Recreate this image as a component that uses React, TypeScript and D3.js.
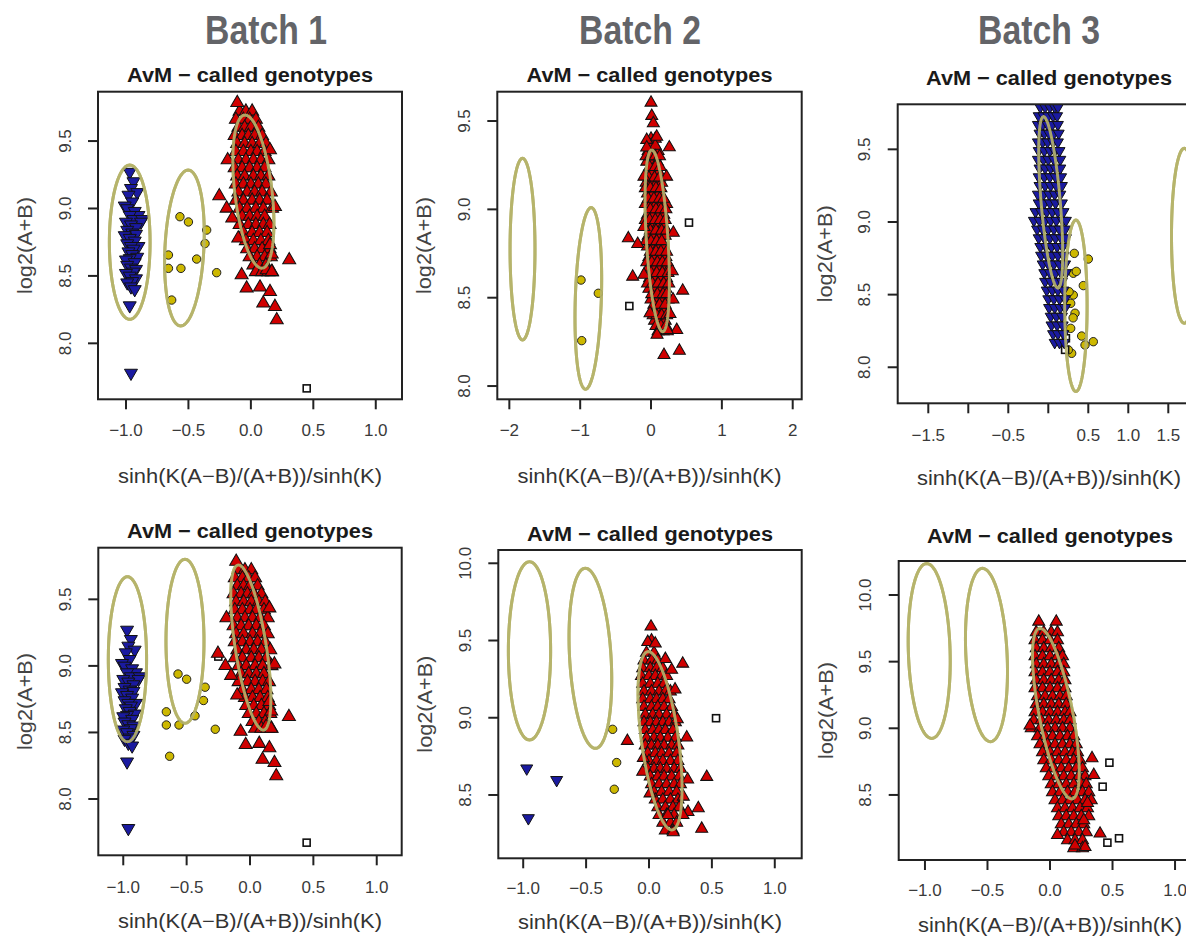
import React from 'react';
import * as d3 from 'd3';

type Pt = [number, number];
type Row = [number, number[]];
type Ell = { cx: number; cy: number; rx: number; ry: number; sh: number };

const BATCHES = ['Batch 1', 'Batch 2', 'Batch 3'];
const TITLE = 'AvM \u2212 called genotypes';
const XLABEL = 'sinh(K(A\u2212B)/(A+B))/sinh(K)';
const YLABEL = 'log2(A+B)';

// ---- tick values / labels ----
const X_TICKS_STD = [-1, -0.5, 0, 0.5, 1];
const X_LABELS_STD = ['\u22121.0', '\u22120.5', '0.0', '0.5', '1.0'];
const X_TICKS_B2 = [-2, -1, 0, 1, 2];
const X_LABELS_B2 = ['\u22122', '\u22121', '0', '1', '2'];
const X_TICKS_B3 = [-1.5, -1, -0.5, 0, 0.5, 1, 1.5];
const X_LABELS_B3 = ['\u22121.5', '', '\u22120.5', '', '0.5', '1.0', '1.5'];
const Y_TICKS_LO = [8.0, 8.5, 9.0, 9.5];
const Y_LABELS_LO = ['8.0', '8.5', '9.0', '9.5'];
const Y_TICKS_HI = [8.5, 9.0, 9.5, 10.0];
const Y_LABELS_HI = ['8.5', '9.0', '9.5', '10.0'];

// ---- Batch 1 (panels 1 and 4) ----
const B1_BLUE: Pt[] = [
  [-0.97, 9.27], [-0.94, 9.2], [-0.96, 9.15], [-0.91, 9.12], [-0.98, 9.1], [-0.95, 9.05], [-1.01, 9.02],
  [-0.99, 9.0], [-0.93, 8.98], [-0.9, 8.95], [-0.97, 8.95], [-0.94, 8.92], [-0.87, 8.92], [-0.88, 8.9],
  [-1.0, 8.9], [-0.96, 8.88], [-0.92, 8.86], [-0.99, 8.84], [-0.95, 8.82], [-0.92, 8.81], [-1.01, 8.8],
  [-0.97, 8.78], [-0.93, 8.76], [-0.99, 8.74], [-0.9, 8.72], [-0.96, 8.72], [-0.94, 8.7], [-0.98, 8.68],
  [-0.95, 8.66], [-0.91, 8.64], [-0.97, 8.63], [-1.0, 8.62], [-0.93, 8.6], [-0.99, 8.58], [-0.96, 8.56],
  [-0.92, 8.55], [-0.94, 8.53], [-1.0, 8.52], [-0.97, 8.5], [-0.92, 8.48], [-0.95, 8.46], [-0.99, 8.45],
  [-0.96, 8.42], [-0.93, 8.4], [-0.97, 8.28], [-0.96, 7.78],
];
const B1_YELLOW: Pt[] = [
  [-0.568, 8.939], [-0.5, 8.9], [-0.354, 8.84], [-0.367, 8.74], [-0.434, 8.625], [-0.66, 8.655],
  [-0.66, 8.556], [-0.56, 8.556], [-0.274, 8.524], [-0.634, 8.321],
];
const B1_RED_CORE: Row[] = [
  [9.72, [-0.09, -0.04, 0.01]],
  [9.66, [-0.12, -0.06, -0.01, 0.04]],
  [9.6, [-0.1, -0.05, 0.0, 0.06]],
  [9.54, [-0.13, -0.07, -0.02, 0.03, 0.09]],
  [9.48, [-0.11, -0.05, 0.01, 0.07, 0.12]],
  [9.42, [-0.12, -0.06, 0.0, 0.05, 0.11]],
  [9.36, [-0.1, -0.04, 0.02, 0.08, 0.14]],
  [9.3, [-0.13, -0.07, -0.01, 0.05, 0.11]],
  [9.24, [-0.11, -0.05, 0.02, 0.08, 0.14]],
  [9.18, [-0.12, -0.06, 0.0, 0.06, 0.12]],
  [9.12, [-0.1, -0.03, 0.03, 0.09, 0.16]],
  [9.06, [-0.12, -0.06, 0.01, 0.07, 0.13]],
  [9.0, [-0.09, -0.03, 0.04, 0.1, 0.17]],
  [8.94, [-0.07, -0.01, 0.05, 0.11]],
  [8.88, [-0.09, -0.02, 0.04, 0.1, 0.15]],
  [8.82, [-0.06, 0.01, 0.07, 0.13]],
  [8.76, [-0.04, 0.02, 0.08, 0.14]],
  [8.7, [-0.03, 0.03, 0.09, 0.15]],
  [8.64, [-0.01, 0.05, 0.11, 0.16]],
  [8.58, [0.02, 0.07, 0.12]],
  [8.53, [0.04, 0.09, 0.14, 0.17]],
];
const B1_RED_OUT: Pt[] = [
  [-0.109, 9.784], [-0.186, 9.36], [-0.253, 9.093], [-0.194, 9.001], [-0.149, 8.927], [-0.101, 8.779],
  [0.307, 8.618], [-0.074, 8.507], [-0.034, 8.408], [0.073, 8.416], [0.153, 8.383], [0.099, 8.297],
  [0.193, 8.272], [0.207, 8.173], [0.127, 8.544], [0.167, 8.53], [0.193, 9.013], [0.153, 9.434],
  [0.153, 8.73], [0.167, 8.66],
];
const P1_SQUARES: Pt[] = [[0.447, 7.666]];
const P4_SQUARES: Pt[] = [[-0.25, 9.07], [0.447, 7.672]];
const P1_ELLIPSES: Ell[] = [
  { cx: -0.97, cy: 8.75, rx: 0.163, ry: 0.572, sh: 0 },
  { cx: -0.532, cy: 8.707, rx: 0.156, ry: 0.578, sh: 0.03 },
  { cx: 0.02, cy: 9.125, rx: 0.15, ry: 0.568, sh: -0.067 },
];
const P4_ELLIPSES: Ell[] = [
  { cx: -0.967, cy: 9.05, rx: 0.151, ry: 0.62, sh: 0 },
  { cx: -0.513, cy: 9.185, rx: 0.15, ry: 0.616, sh: 0 },
  { cx: 0.0065, cy: 9.138, rx: 0.124, ry: 0.62, sh: -0.098 },
];

// ---- Batch 2 top (panel 2) ----
const P2_YELLOW: Pt[] = [[-0.988, 8.6], [-0.744, 8.525], [-0.978, 8.257]];
const P2_SQUARES: Pt[] = [[0.536, 8.925], [-0.306, 8.453]];
const P2_RED_CORE: Row[] = [
  [9.4, [0.0, 0.06]],
  [9.33, [-0.04, 0.03, 0.1]],
  [9.27, [-0.06, 0.02, 0.09]],
  [9.21, [-0.05, 0.03, 0.11]],
  [9.15, [-0.07, 0.01, 0.08, 0.15]],
  [9.09, [-0.05, 0.03, 0.11]],
  [9.03, [-0.08, 0.0, 0.07, 0.15, 0.22]],
  [8.97, [-0.05, 0.03, 0.11, 0.18]],
  [8.91, [-0.06, 0.02, 0.09, 0.17]],
  [8.85, [-0.04, 0.04, 0.12, 0.2]],
  [8.79, [-0.05, 0.03, 0.1, 0.18]],
  [8.73, [-0.03, 0.05, 0.13, 0.21]],
  [8.67, [-0.04, 0.04, 0.12, 0.2, 0.26]],
  [8.61, [-0.02, 0.06, 0.14, 0.22]],
  [8.55, [-0.03, 0.05, 0.13, 0.21]],
  [8.49, [0.0, 0.08, 0.16, 0.24]],
  [8.43, [0.02, 0.1, 0.18]],
  [8.37, [0.05, 0.12, 0.2]],
  [8.31, [0.1, 0.17, 0.23]],
];
const P2_RED_CORE_B: Row[] = [
  [9.36, [-0.01, 0.06]],
  [9.3, [-0.07, -0.01, 0.06, 0.12]],
  [9.24, [-0.02, 0.06, 0.13]],
  [9.18, [-0.03, 0.05, 0.12]],
  [9.12, [-0.08, -0.01, 0.07, 0.14]],
  [9.06, [-0.04, 0.04, 0.12, 0.18]],
  [9.0, [-0.01, 0.07, 0.14, 0.21]],
  [8.94, [-0.08, -0.02, 0.06, 0.13, 0.2]],
  [8.88, [-0.01, 0.07, 0.15, 0.22]],
  [8.82, [-0.07, 0.0, 0.08, 0.15]],
  [8.76, [-0.01, 0.07, 0.14, 0.22]],
  [8.7, [-0.06, 0.01, 0.09, 0.16, 0.23]],
  [8.64, [0.0, 0.08, 0.16, 0.24]],
  [8.58, [-0.05, 0.02, 0.1, 0.18, 0.25]],
  [8.52, [0.01, 0.09, 0.17, 0.22]],
  [8.46, [0.04, 0.12, 0.2]],
  [8.4, [0.03, 0.08, 0.15, 0.22]],
  [8.34, [0.07, 0.14, 0.21]],
];
const P2_RED_OUT: Pt[] = [
  [0.0, 9.604], [0.01, 9.529], [0.033, 9.487], [-0.061, 9.393], [0.08, 9.411], [0.258, 9.351],
  [-0.061, 9.35], [-0.32, 8.836], [-0.188, 8.804], [-0.259, 8.619], [0.315, 8.868], [0.447, 8.54],
  [0.363, 8.317], [0.183, 8.176], [0.4, 8.2], [0.268, 8.408], [-0.014, 8.412], [0.23, 8.317],
  [0.085, 8.29], [-0.1, 9.185], [0.22, 9.185], [-0.1, 8.9], [0.3, 8.65], [-0.1, 8.63], [0.31, 8.49],
];
const P2_ELLIPSES: Ell[] = [
  { cx: -1.814, cy: 8.775, rx: 0.176, ry: 0.514, sh: 0 },
  { cx: -0.885, cy: 8.496, rx: 0.184, ry: 0.514, sh: 0.04 },
  { cx: 0.0875, cy: 8.822, rx: 0.153, ry: 0.514, sh: -0.0775 },
];

// ---- Batch 3 top (panel 3) ----
const P3_BLUE_CORE: Row[] = [
  [9.79, [-0.1, -0.04, 0.02, 0.08, 0.12]],
  [9.73, [-0.12, -0.06, 0.0, 0.06, 0.11]],
  [9.67, [-0.13, -0.07, -0.01, 0.05, 0.12]],
  [9.61, [-0.11, -0.05, 0.01, 0.07, 0.13]],
  [9.55, [-0.13, -0.07, -0.01, 0.06, 0.12]],
  [9.49, [-0.12, -0.05, 0.02, 0.08, 0.14]],
  [9.43, [-0.13, -0.06, 0.0, 0.07, 0.15]],
  [9.37, [-0.11, -0.04, 0.03, 0.09, 0.15]],
  [9.31, [-0.12, -0.05, 0.02, 0.09, 0.16]],
  [9.25, [-0.11, -0.04, 0.03, 0.1, 0.17]],
  [9.19, [-0.13, -0.06, 0.01, 0.08, 0.15]],
  [9.13, [-0.12, -0.05, 0.02, 0.09, 0.17]],
  [9.07, [-0.16, -0.09, -0.02, 0.05, 0.12, 0.19]],
  [9.01, [-0.18, -0.11, -0.04, 0.03, 0.1, 0.18, 0.22]],
  [8.95, [-0.14, -0.07, 0.0, 0.07, 0.14, 0.21]],
  [8.89, [-0.12, -0.05, 0.02, 0.09, 0.16, 0.22]],
  [8.83, [-0.1, -0.03, 0.04, 0.11, 0.18]],
  [8.77, [-0.09, -0.02, 0.05, 0.12, 0.19]],
  [8.71, [-0.07, 0.0, 0.07, 0.14, 0.21]],
  [8.65, [-0.05, 0.02, 0.09, 0.16, 0.22]],
  [8.59, [-0.04, 0.03, 0.1, 0.17]],
  [8.53, [-0.02, 0.05, 0.12, 0.19]],
  [8.47, [0.0, 0.07, 0.14, 0.21]],
  [8.41, [0.01, 0.08, 0.15, 0.21]],
  [8.35, [0.03, 0.1, 0.17]],
  [8.29, [0.04, 0.11, 0.18]],
  [8.23, [0.06, 0.12, 0.19]],
  [8.17, [0.08, 0.14, 0.2]],
];
const P3_YELLOW: Pt[] = [
  [0.325, 8.784], [0.5, 8.745], [0.313, 8.647], [0.35, 8.66], [0.4375, 8.562], [0.3125, 8.497],
  [0.28, 8.44], [0.334, 8.372], [0.31, 8.34], [0.28, 8.268], [0.417, 8.215], [0.459, 8.153],
  [0.5625, 8.176], [0.292, 8.096], [0.25, 8.12], [0.26, 8.52],
];
const P3_SQUARES: Pt[] = [[0.21, 8.12], [0.22, 8.2]];
const P3_ELLIPSES: Ell[] = [
  { cx: 0.03, cy: 9.135, rx: 0.12, ry: 0.59, sh: -0.09 },
  { cx: 0.345, cy: 8.423, rx: 0.14, ry: 0.59, sh: 0 },
  { cx: 1.7, cy: 8.905, rx: 0.16, ry: 0.602, sh: 0 },
];

// ---- Batch 2 bottom (panel 5) ----
const P5_BLUE: Pt[] = [[-0.972, 8.672], [-0.734, 8.597], [-0.959, 8.35]];
const P5_YELLOW: Pt[] = [[-0.289, 8.925], [-0.257, 8.71], [-0.276, 8.537]];
const P5_SQUARES: Pt[] = [[0.533, 8.997]];
const P5_RED_CORE: Row[] = [
  [9.42, [-0.02, 0.04]],
  [9.37, [-0.04, 0.02, 0.07]],
  [9.32, [-0.05, 0.01, 0.06, 0.11]],
  [9.27, [-0.06, 0.0, 0.05, 0.1, 0.14]],
  [9.22, [-0.05, 0.01, 0.07, 0.12]],
  [9.17, [-0.04, 0.02, 0.08, 0.13, 0.17]],
  [9.12, [-0.05, 0.01, 0.06, 0.11, 0.16]],
  [9.07, [-0.04, 0.02, 0.07, 0.12, 0.18]],
  [9.02, [-0.03, 0.03, 0.08, 0.14, 0.2]],
  [8.97, [-0.04, 0.01, 0.06, 0.11, 0.16, 0.21]],
  [8.92, [-0.03, 0.03, 0.08, 0.13, 0.19]],
  [8.87, [-0.02, 0.04, 0.09, 0.15, 0.21]],
  [8.82, [-0.03, 0.02, 0.07, 0.12, 0.18, 0.23]],
  [8.77, [-0.01, 0.05, 0.1, 0.16, 0.22]],
  [8.72, [0.0, 0.06, 0.11, 0.17, 0.23]],
  [8.67, [-0.01, 0.04, 0.09, 0.14, 0.2, 0.25]],
  [8.62, [0.01, 0.07, 0.12, 0.18, 0.24]],
  [8.57, [0.02, 0.08, 0.14, 0.2, 0.25]],
  [8.52, [0.04, 0.1, 0.16, 0.22]],
  [8.47, [0.05, 0.11, 0.17, 0.23]],
  [8.42, [0.07, 0.13, 0.19, 0.24]],
  [8.37, [0.08, 0.14, 0.2]],
  [8.32, [0.11, 0.17, 0.22]],
  [8.27, [0.13, 0.19]],
];
const P5_RED_OUT: Pt[] = [
  [0.016, 9.59], [0.02, 9.5], [-0.01, 9.49], [0.05, 9.48], [0.268, 9.35], [0.13, 9.38], [0.18, 9.31],
  [0.207, 9.183], [0.225, 8.99], [0.3, 8.872], [-0.172, 8.85], [-0.045, 8.74], [-0.05, 8.65],
  [0.008, 8.51], [0.459, 8.617], [0.307, 8.6], [0.273, 8.489], [0.392, 8.414], [0.31, 8.39],
  [0.193, 8.259], [0.419, 8.281], [0.27, 8.37], [0.15, 8.37],
];
const P5_ELLIPSES: Ell[] = [
  { cx: -0.95, cy: 9.433, rx: 0.168, ry: 0.577, sh: 0 },
  { cx: -0.466, cy: 9.385, rx: 0.165, ry: 0.583, sh: -0.04 },
  { cx: 0.088, cy: 8.851, rx: 0.148, ry: 0.577, sh: -0.093 },
];

// ---- Batch 3 bottom (panel 6) ----
const P6_SQUARES: Pt[] = [[0.475, 8.742], [0.421, 8.562], [0.459, 8.142], [0.552, 8.175]];
const P6_RED_CORE: Row[] = [
  [9.72, [-0.11, -0.05, 0.01, 0.06]],
  [9.66, [-0.12, -0.06, 0.0, 0.06]],
  [9.6, [-0.11, -0.05, 0.01, 0.07]],
  [9.54, [-0.12, -0.06, 0.0, 0.06, 0.1]],
  [9.48, [-0.11, -0.05, 0.01, 0.07, 0.11]],
  [9.42, [-0.12, -0.06, 0.0, 0.06, 0.11]],
  [9.36, [-0.11, -0.05, 0.01, 0.07, 0.12]],
  [9.3, [-0.12, -0.06, 0.0, 0.06, 0.12]],
  [9.24, [-0.1, -0.04, 0.02, 0.08, 0.13]],
  [9.18, [-0.11, -0.05, 0.01, 0.07, 0.13]],
  [9.12, [-0.12, -0.06, 0.0, 0.06, 0.12, 0.16]],
  [9.06, [-0.13, -0.07, -0.01, 0.05, 0.11, 0.16]],
  [9.0, [-0.15, -0.08, -0.02, 0.04, 0.1, 0.16]],
  [8.94, [-0.1, -0.04, 0.02, 0.08, 0.14, 0.19]],
  [8.88, [-0.08, -0.02, 0.04, 0.1, 0.16, 0.21]],
  [8.82, [-0.06, 0.0, 0.06, 0.12, 0.18, 0.22]],
  [8.76, [-0.05, 0.01, 0.07, 0.13, 0.19, 0.24]],
  [8.7, [-0.03, 0.03, 0.09, 0.15, 0.21, 0.26]],
  [8.64, [-0.01, 0.05, 0.11, 0.17, 0.23, 0.28]],
  [8.58, [0.01, 0.07, 0.13, 0.19, 0.25, 0.29]],
  [8.52, [0.02, 0.08, 0.14, 0.2, 0.26, 0.31]],
  [8.46, [0.04, 0.1, 0.16, 0.22, 0.28, 0.33]],
  [8.4, [0.06, 0.12, 0.18, 0.24, 0.3]],
  [8.34, [0.07, 0.13, 0.19, 0.25, 0.31]],
  [8.28, [0.09, 0.15, 0.21, 0.27]],
  [8.22, [0.11, 0.17, 0.23, 0.29]],
  [8.16, [0.14, 0.2, 0.26]],
  [8.1, [0.19, 0.26]],
];
const P6_RED_OUT: Pt[] = [
  [-0.09, 9.8], [0.05, 9.8], [0.336, 8.775], [0.35, 8.65], [0.4, 8.21], [0.28, 8.11], [0.2, 8.12],
  [0.06, 8.2], [0.3, 8.44], [0.27, 8.31], [-0.16, 9.02],
];
const P6_ELLIPSES: Ell[] = [
  { cx: -0.966, cy: 9.58, rx: 0.167, ry: 0.656, sh: -0.02 },
  { cx: -0.508, cy: 9.55, rx: 0.165, ry: 0.65, sh: -0.032 },
  { cx: 0.047, cy: 9.11, rx: 0.137, ry: 0.64, sh: -0.127 },
];

const flat = (rows: Row[]): Pt[] => rows.flatMap(([yv, xs]) => xs.map((xv) => [xv, yv] as Pt));

// ---- styling / layout ----
const FONT = "'Liberation Sans', Arial, Helvetica, sans-serif";
const RED = '#d00000';
const BLUE = '#1a1aa0';
const YELLOW = '#cdb800';
const ELL = '#b6b46c';

interface PanelCfg {
  box: [number, number, number, number];
  xDom: [number, number];
  yDom: [number, number];
  xTicks: number[];
  xLabels: string[];
  yTicks: number[];
  yLabels: string[];
  titleY: number;
  tickY: number;
  xlabY: number;
  tri: number;
  ellipses: Ell[];
  red: Pt[];
  blue: Pt[];
  yellow: Pt[];
  squares: Pt[];
}

const PANELS: PanelCfg[] = [
  {
    box: [98, 402, 91.7, 399.3], xDom: [-1.224, 1.21], yDom: [7.585, 9.866],
    xTicks: X_TICKS_STD, xLabels: X_LABELS_STD, yTicks: Y_TICKS_LO, yLabels: Y_LABELS_LO,
    titleY: 81.5, tickY: 430, xlabY: 476, tri: 13,
    ellipses: P1_ELLIPSES, red: [...flat(B1_RED_CORE), ...B1_RED_OUT], blue: B1_BLUE, yellow: B1_YELLOW, squares: P1_SQUARES,
  },
  {
    box: [497.3, 801.7, 91.7, 399.3], xDom: [-2.17, 2.127], yDom: [7.925, 9.666],
    xTicks: X_TICKS_B2, xLabels: X_LABELS_B2, yTicks: Y_TICKS_LO, yLabels: Y_LABELS_LO,
    titleY: 81.5, tickY: 430, xlabY: 476, tri: 12,
    ellipses: P2_ELLIPSES, red: [...flat(P2_RED_CORE), ...flat(P2_RED_CORE_B), ...P2_RED_OUT], blue: [], yellow: P2_YELLOW, squares: P2_SQUARES,
  },
  {
    box: [897.7, 1200.3, 104.3, 403.3], xDom: [-1.8825, 1.9], yDom: [7.752, 9.81],
    xTicks: X_TICKS_B3, xLabels: X_LABELS_B3, yTicks: Y_TICKS_LO, yLabels: Y_LABELS_LO,
    titleY: 85, tickY: 435, xlabY: 478, tri: 11,
    ellipses: P3_ELLIPSES, red: [], blue: flat(P3_BLUE_CORE), yellow: P3_YELLOW, squares: P3_SQUARES,
  },
  {
    box: [98.3, 401.7, 547.7, 855.3], xDom: [-1.197, 1.197], yDom: [7.577, 9.888],
    xTicks: X_TICKS_STD, xLabels: X_LABELS_STD, yTicks: Y_TICKS_LO, yLabels: Y_LABELS_LO,
    titleY: 538, tickY: 887, xlabY: 921, tri: 13,
    ellipses: P4_ELLIPSES, red: [...flat(B1_RED_CORE), ...B1_RED_OUT], blue: B1_BLUE, yellow: B1_YELLOW, squares: P4_SQUARES,
  },
  {
    box: [498.3, 801.7, 550, 858.3], xDom: [-1.198, 1.214], yDom: [8.09, 10.086],
    xTicks: X_TICKS_STD, xLabels: X_LABELS_STD, yTicks: Y_TICKS_HI, yLabels: Y_LABELS_HI,
    titleY: 540.5, tickY: 888, xlabY: 922, tri: 12,
    ellipses: P5_ELLIPSES, red: [...flat(P5_RED_CORE), ...P5_RED_OUT], blue: P5_BLUE, yellow: P5_YELLOW, squares: P5_SQUARES,
  },
  {
    box: [898.7, 1201.3, 561, 860], xDom: [-1.21, 1.21], yDom: [8.012, 10.255],
    xTicks: X_TICKS_STD, xLabels: X_LABELS_STD, yTicks: Y_TICKS_HI, yLabels: Y_LABELS_HI,
    titleY: 543, tickY: 890, xlabY: 925, tri: 12,
    ellipses: P6_ELLIPSES, red: [...flat(P6_RED_CORE), ...P6_RED_OUT], blue: [], yellow: [], squares: P6_SQUARES,
  },
];

const HEADER_X = [266, 640, 1039];

function triPath(cx: number, cy: number, w: number, up: boolean): string {
  const h = w * 0.866;
  const s = up ? 1 : -1;
  const tipY = cy - s * (2 * h) / 3;
  const baseY = cy + s * h / 3;
  return `M${cx},${tipY}L${cx + w / 2},${baseY}L${cx - w / 2},${baseY}Z`;
}

const T_SAMPLES = d3.range(0, 2 * Math.PI + 0.001, Math.PI / 60);

function Panel({ cfg, idx }: { cfg: PanelCfg; idx: number }) {
  const [x0, x1, y0, y1] = cfg.box;
  const x = d3.scaleLinear().domain(cfg.xDom).range([x0, x1]);
  const y = d3.scaleLinear().domain(cfg.yDom).range([y1, y0]);
  const cxm = (x0 + x1) / 2;
  const cym = (y0 + y1) / 2;
  const line = d3.line<number[]>();
  const ellPath = (e: Ell) =>
    line(T_SAMPLES.map((t) => [x(e.cx + e.rx * Math.cos(t) + e.sh * Math.sin(t)), y(e.cy + e.ry * Math.sin(t))] as any)) + 'Z';
  const clipId = `clip${idx}`;
  return (
    <g>
      <defs>
        <clipPath id={clipId}>
          <rect x={x0} y={y0} width={x1 - x0} height={y1 - y0} />
        </clipPath>
      </defs>
      <text x={cxm} y={cfg.titleY} textAnchor="middle" fontFamily={FONT} fontWeight="bold" fontSize={20}
        fill="#1a1a1a" textLength={246} lengthAdjust="spacingAndGlyphs">{TITLE}</text>
      <g clipPath={`url(#${clipId})`}>
        {cfg.ellipses.map((e, i) => (
          <path key={`e${i}`} d={ellPath(e)} fill="none" stroke={ELL} strokeWidth={3} />
        ))}
        {cfg.yellow.map((p, i) => (
          <circle key={`y${i}`} cx={x(p[0])} cy={y(p[1])} r={4.2} fill={YELLOW} stroke="#222" strokeWidth={1} />
        ))}
        {cfg.squares.map((p, i) => (
          <rect key={`s${i}`} x={x(p[0]) - 3.5} y={y(p[1]) - 3.5} width={7} height={7} fill="#fff" stroke="#111" strokeWidth={1.6} />
        ))}
        {cfg.blue.map((p, i) => (
          <path key={`b${i}`} d={triPath(x(p[0]), y(p[1]), cfg.tri, false)} fill={BLUE} stroke="#111" strokeWidth={1} />
        ))}
        {cfg.red.map((p, i) => (
          <path key={`r${i}`} d={triPath(x(p[0]), y(p[1]), cfg.tri, true)} fill={RED} stroke="#111" strokeWidth={1.05} />
        ))}
        {cfg.ellipses.map((e, i) => (
          <path key={`e2${i}`} d={ellPath(e)} fill="none" stroke={ELL} strokeWidth={3} opacity={0.9} />
        ))}
      </g>
      <rect x={x0} y={y0} width={x1 - x0} height={y1 - y0} fill="none" stroke="#222" strokeWidth={2} />
      {cfg.xTicks.map((t, i) => (
        <g key={`xt${i}`}>
          <line x1={x(t)} x2={x(t)} y1={y1} y2={y1 + 10} stroke="#222" strokeWidth={2} />
          {cfg.xLabels[i] && (
            <text x={x(t)} y={cfg.tickY} textAnchor="middle" dominantBaseline="central" fontFamily={FONT}
              fontSize={17} fill="#3a3a3a">{cfg.xLabels[i]}</text>
          )}
        </g>
      ))}
      {cfg.yTicks.map((t, i) => (
        <g key={`yt${i}`}>
          <line x1={x0 - 10} x2={x0} y1={y(t)} y2={y(t)} stroke="#222" strokeWidth={2} />
          <text transform={`translate(${x0 - 33},${y(t)}) rotate(-90)`} textAnchor="middle" dominantBaseline="central"
            fontFamily={FONT} fontSize={17} fill="#3a3a3a">{cfg.yLabels[i]}</text>
        </g>
      ))}
      <text x={cxm} y={cfg.xlabY} textAnchor="middle" dominantBaseline="central" fontFamily={FONT} fontSize={20}
        fill="#333" textLength={264} lengthAdjust="spacingAndGlyphs">{XLABEL}</text>
      <text transform={`translate(${x0 - 73},${cym}) rotate(-90)`} textAnchor="middle" dominantBaseline="central"
        fontFamily={FONT} fontSize={20} fill="#444" textLength={97} lengthAdjust="spacingAndGlyphs">{YLABEL}</text>
    </g>
  );
}

export default function App() {
  return (
    <svg width={1186} height={943} viewBox="0 0 1186 943"
      style={{ position: 'absolute', left: 0, top: 0, display: 'block', background: '#fff' }}>
      <rect x={0} y={0} width={1186} height={943} fill="#fff" />
      {BATCHES.map((b, i) => (
        <text key={b} x={HEADER_X[i]} y={44} textAnchor="middle" fontFamily={FONT} fontWeight="bold" fontSize={41}
          fill="#636468" textLength={122} lengthAdjust="spacingAndGlyphs">{b}</text>
      ))}
      {PANELS.map((p, i) => (
        <Panel key={i} cfg={p} idx={i} />
      ))}
    </svg>
  );
}
